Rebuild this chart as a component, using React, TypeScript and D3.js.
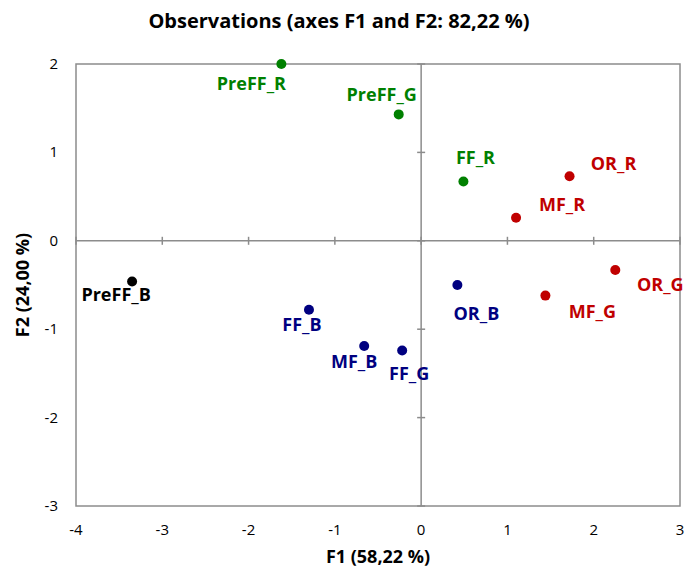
import React from "react";
import * as d3 from "d3";

const names = ["PreFF_R", "PreFF_G", "FF_R", "OR_R", "MF_R", "OR_G", "MF_G", "OR_B", "PreFF_B", "FF_B", "MF_B", "FF_G"];
const f1 = [-1.62, -0.26, 0.49, 1.72, 1.10, 2.25, 1.44, 0.42, -3.35, -1.30, -0.66, -0.22];
const f2 = [2.0, 1.43, 0.67, 0.73, 0.26, -0.33, -0.62, -0.50, -0.46, -0.78, -1.19, -1.24];
const groups = ["G", "G", "G", "R", "R", "R", "R", "B", "K", "B", "B", "B"];
const xTicks = [-4, -3, -2, -1, 0, 1, 2, 3];
const yTicks = [-3, -2, -1, 0, 1, 2];

const colorOf: Record<string, string> = { G: "#008000", R: "#C00000", B: "#000080", K: "#000000" };
// label offsets (px) relative to point, text-anchor middle
const labelDx = [-30, -17, 12, 44, 46, 45, 47, 19, -16, -7, -10, 7];
const labelDy = [20, -19, -24, -12, -13, 15, 16, 29, 14, 15, 16, 24];

export default function App() {
  const W = 684, H = 570;
  const x = d3.scaleLinear().domain([-4, 3]).range([76, 680]);
  const y = d3.scaleLinear().domain([-3, 2]).range([506, 64]);
  const font = "'Open Sans', sans-serif";
  const axisCol = "#8c8c8c";
  return (
    <svg width={W} height={H} style={{ position: "absolute", left: 0, top: 0, background: "#fff" }} fontFamily={font}>
      <text x={339} y={28} textAnchor="middle" fontSize={20} fontWeight="bold">Observations (axes F1 and F2: 82,22 %)</text>
      <rect x={x(-4)} y={y(2)} width={x(3) - x(-4)} height={y(-3) - y(2)} fill="none" stroke={axisCol} strokeWidth={1.5} />
      <line x1={x(-4)} x2={x(3)} y1={y(0)} y2={y(0)} stroke={axisCol} strokeWidth={1.5} />
      <line x1={x(0)} x2={x(0)} y1={y(2)} y2={y(-3)} stroke={axisCol} strokeWidth={1.5} />
      {xTicks.map((t) => (
        <g key={"xt" + t}>
          <line x1={x(t)} x2={x(t)} y1={y(0) - 4} y2={y(0) + 4} stroke={axisCol} strokeWidth={1.5} />
          <text x={x(t)} y={y(-3) + 29} textAnchor="middle" fontSize={15}>{t}</text>
        </g>
      ))}
      {yTicks.map((t) => (
        <g key={"yt" + t}>
          <line x1={x(0) - 4} x2={x(0) + 4} y1={y(t)} y2={y(t)} stroke={axisCol} strokeWidth={1.5} />
          <text x={x(-4) - 18} y={y(t) + 5} textAnchor="end" fontSize={15}>{t}</text>
        </g>
      ))}
      <text x={(x(-4) + x(3)) / 2} y={563} textAnchor="middle" fontSize={18} fontWeight="bold">F1 (58,22 %)</text>
      <text transform={`translate(29,${(y(2) + y(-3)) / 2}) rotate(-90)`} textAnchor="middle" fontSize={18} fontWeight="bold">F2 (24,00 %)</text>
      {names.map((n, i) => (
        <g key={n}>
          <circle cx={x(f1[i])} cy={y(f2[i])} r={5} fill={colorOf[groups[i]]} />
          <text x={x(f1[i]) + labelDx[i]} y={y(f2[i]) + labelDy[i] + 6} textAnchor="middle" fontSize={18} fontWeight="bold" fill={colorOf[groups[i]]}>{n}</text>
        </g>
      ))}
    </svg>
  );
}
